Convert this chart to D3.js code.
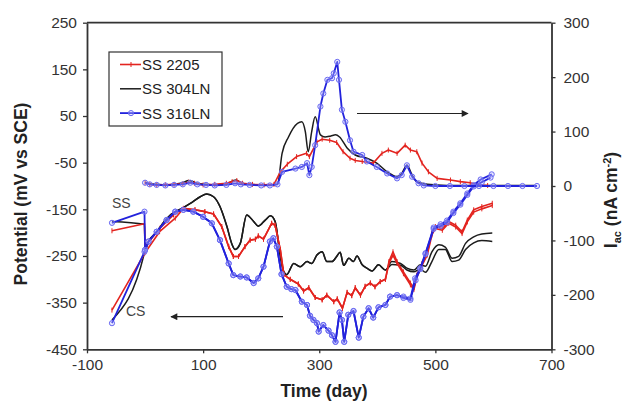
<!DOCTYPE html>
<html>
<head>
<meta charset="utf-8">
<script src="https://cdn.jsdelivr.net/npm/d3@7"></script>
<style>
body { margin: 0; background: #fff; }
text { font-family: Arial, "Liberation Sans", sans-serif; }
</style>
</head>
<body>
<script>
//tick labels
var xTicks = [-100, 100, 300, 500, 700];
var potTicks = [250, 150, 50, -50, -150, -250, -350, -450];
var curTicks = [300, 200, 100, 0, -100, -200, -300];

//legend names
var names = ["SS 2205", "SS 304LN", "SS 316LN"];

//potential (mV vs SCE), [day, value] -- SS electrode start, CS electrode start, shared path, second-line end
var red_ssStart = [[-57, -196], [-1, -181]];
var red_csStart = [[-57, -366], [0, -243], [25, -198], [52, -169]];
var red_main = [[0, -235], [5, -222], [26, -190], [49, -162], [66, -148], [86, -151], [103, -155], [118, -160],
    [132, -187], [144, -230], [152, -251], [161, -251], [172, -230], [181, -216], [190, -214], [195, -207],
    [204, -214], [218, -180], [224, -184], [233, -237], [239, -290], [250, -300], [264, -310], [273, -325],
    [282, -318], [293, -339], [305, -344], [313, -334], [325, -348], [331, -342], [340, -362], [348, -328],
    [356, -335], [362, -318], [371, -334], [379, -315], [388, -308], [396, -316], [405, -305], [414, -300],
    [420, -262], [427, -241], [434, -262], [445, -284], [457, -308], [463, -318], [468, -291], [477, -266],
    [486, -244], [494, -201], [500, -187], [512, -191], [523, -176], [535, -184], [546, -198], [555, -173],
    [566, -151], [580, -144], [598, -137]];
var red_tail = [[420, -266], [427, -248], [434, -266], [445, -288], [457, -312], [463, -322], [468, -296],
    [477, -270], [486, -248], [494, -205], [500, -191], [512, -195], [523, -180], [535, -188], [546, -202],
    [555, -177], [566, -156], [580, -149], [598, -142]];

var black_ssStart = [[-57, -176], [-1, -182]];
var black_csStart = [[-57, -387], [-1, -243]];
var black_main = [[0, -237], [6, -219], [20, -198], [37, -170], [50, -156], [60, -150], [78, -137], [95, -123],
    [106, -117], [118, -123], [129, -144], [141, -187], [150, -226], [155, -236], [164, -223], [175, -162],
    [187, -176], [195, -186], [207, -173], [216, -164], [224, -176], [233, -251], [239, -284], [244, -290],
    [256, -266], [267, -273], [279, -262], [287, -266], [296, -248], [305, -241], [313, -262], [322, -262],
    [330, -251], [336, -242], [342, -270], [351, -255], [359, -262], [365, -250], [374, -269], [382, -276],
    [391, -282], [402, -269], [414, -280], [425, -262], [440, -266], [451, -276], [463, -280], [474, -269],
    [483, -272], [494, -241], [506, -226], [517, -231], [529, -255], [540, -251], [552, -223], [566, -209],
    [580, -203], [598, -201]];
var black_tail = [[425, -268], [440, -270], [451, -280], [463, -284], [474, -278], [483, -285], [494, -262],
    [506, -236], [517, -236], [529, -262], [540, -259], [552, -236], [566, -222], [580, -217], [598, -219]];

var blue_ssStart = [[-57, -179], [-1, -155]];
var blue_csStart = [[-57, -394], [-1, -241]];
var blue_main = [[0, -237], [6, -219], [20, -198], [37, -173], [52, -155], [66, -151], [83, -155], [100, -166],
    [115, -180], [129, -216], [144, -266], [152, -291], [164, -294], [175, -296], [187, -308], [195, -298],
    [204, -273], [215, -219], [221, -212], [227, -230], [235, -289], [244, -316], [252, -321], [259, -323],
    [270, -348], [279, -355], [284, -378], [290, -387], [296, -394], [299, -412], [307, -398], [316, -410],
    [322, -420], [328, -434], [335, -371], [339, -387], [343, -434], [350, -376], [359, -368], [368, -425],
    [376, -380], [385, -362], [393, -382], [402, -360], [414, -355], [422, -337], [434, -334], [445, -337],
    [457, -341], [465, -298], [474, -276], [483, -244], [497, -189], [509, -182], [520, -174], [531, -155],
    [543, -137], [555, -116], [566, -98], [578, -86], [597, -75]];
var blue_tail = [[445, -340], [457, -344], [466, -302], [474, -278], [483, -246], [497, -192], [509, -186],
    [520, -178], [531, -158], [543, -140], [555, -119], [566, -101], [580, -92], [595, -82]];

//current I_ac (nA cm-2), [day, value]
var red_cur = [[0, 6], [8, 3], [20, 2], [35, 2], [50, 3], [65, 4], [75, 7], [85, 5], [100, 2], [120, 3],
    [140, 5], [150, 8], [158, 10], [168, 5], [185, 3], [205, 2], [222, 3], [233, 26], [245, 40], [261, 54],
    [278, 60], [283, 54], [296, 81], [305, 86], [318, 84], [330, 80], [341, 63], [353, 51], [362, 47],
    [374, 45], [393, 42], [408, 60], [419, 66], [434, 60], [448, 75], [457, 66], [468, 63], [477, 42],
    [488, 26], [503, 14], [526, 11], [543, 8], [560, 6], [572, 2], [590, 1]];
var black_cur = [[0, 7], [8, 4], [20, 3], [35, 2], [50, 3], [65, 6], [75, 10], [80, 9], [90, 5], [105, 3],
    [120, 2], [140, 4], [150, 9], [157, 11], [165, 6], [180, 3], [200, 2], [215, 2], [228, 3], [236, 60],
    [247, 90], [255, 106], [270, 118], [276, 100], [281, 63], [287, 100], [293, 127], [302, 94], [310, 90],
    [320, 92], [328, 94], [335, 90], [348, 70], [362, 57], [382, 51], [399, 42], [417, 26], [434, 17],
    [442, 23], [451, 38], [460, 20], [468, 8], [486, 3], [520, 1], [560, 1], [600, 1], [640, 1], [672, 1]];
var blue_cur = [[0, 6], [8, 3], [20, 2], [35, 1], [50, 2], [65, 3], [78, 6], [90, 3], [105, 2], [120, 1],
    [140, 2], [155, 5], [165, 3], [180, 2], [200, 1], [215, 1], [228, 3], [236, 26], [259, 32], [270, 35],
    [279, 42], [283, 20], [287, 35], [293, 75], [302, 146], [307, 170], [314, 195], [322, 198], [325, 207],
    [331, 228], [334, 195], [339, 140], [345, 118], [353, 84], [359, 63], [374, 57], [382, 45], [399, 35],
    [417, 23], [434, 14], [442, 20], [451, 38], [460, 17], [471, 5], [480, 1], [500, 0], [525, 0],
    [550, 0], [575, 0], [600, 0], [625, 0], [650, 0], [675, 0]];

window.onload = function () {
    var w = 626, h = 402;
    var left = 87, right = 551.5, top = 22.7, bottom = 349.3;

    var svg = d3.select("body").append("svg")
        .attr("width", w)
        .attr("height", h);

    var x = d3.scaleLinear().domain([-100, 700]).range([left, right]);
    var yPot = d3.scaleLinear().domain([-450, 250]).range([bottom, top]);
    var yCur = d3.scaleLinear().domain([-300, 300]).range([bottom, top]);

    var materials = [
        {ss: black_ssStart, cs: black_csStart, main: black_main, tail: black_tail, cur: black_cur,
            color: "#1c1c1c", mark: "none", width: 1.5, curve: d3.curveMonotoneX},
        {ss: red_ssStart, cs: red_csStart, main: red_main, tail: red_tail, cur: red_cur,
            color: "#e3241f", mark: "plus", width: 1.6, curve: d3.curveLinear},
        {ss: blue_ssStart, cs: blue_csStart, main: blue_main, tail: blue_tail, cur: blue_cur,
            color: "#2222dc", mark: "circle", width: 1.8, curve: d3.curveLinear}
    ];

    //draw each material: two potential lines and one current line
    materials.forEach(function (m) {
        var csEnd = m.cs[m.cs.length - 1][0];
        var tailFrom = m.tail[0][0];
        var ssLine = m.ss.concat(m.main);
        var csLine = m.cs.concat(m.main.filter(function (d) {
            return d[0] > csEnd && d[0] < tailFrom;
        })).concat(m.tail);

        var potLine = d3.line().curve(m.curve)
            .x(function (d) { return x(d[0]); })
            .y(function (d) { return yPot(d[1]); });
        var curLine = d3.line().curve(m.curve)
            .x(function (d) { return x(d[0]); })
            .y(function (d) { return yCur(d[1]); });

        var g = svg.append("g");
        [ssLine, csLine].forEach(function (pts) {
            g.append("path").attr("d", potLine(pts))
                .attr("fill", "none").attr("stroke", m.color)
                .attr("stroke-width", m.width).attr("stroke-linejoin", "round");
            drawMarks(g, pts.map(function (d) { return [x(d[0]), yPot(d[1])]; }), m);
        });
        g.append("path").attr("d", curLine(m.cur))
            .attr("fill", "none").attr("stroke", m.color)
            .attr("stroke-width", m.width).attr("stroke-linejoin", "round");
        drawMarks(g, m.cur.map(function (d) { return [x(d[0]), yCur(d[1])]; }), m);
    });

    function drawMarks(g, pts, m) {
        if (m.mark === "circle") {
            g.selectAll(null).data(pts).enter().append("circle")
                .attr("cx", function (d) { return d[0]; })
                .attr("cy", function (d) { return d[1]; })
                .attr("r", 2.6)
                .attr("fill", "#b9b9ff").attr("fill-opacity", 0.35)
                .attr("stroke", "#6a6af2").attr("stroke-width", 1);
        } else if (m.mark === "plus") {
            g.selectAll(null).data(pts).enter().append("line")
                .attr("x1", function (d) { return d[0]; })
                .attr("x2", function (d) { return d[0]; })
                .attr("y1", function (d) { return d[1] - 2.5; })
                .attr("y2", function (d) { return d[1] + 2.5; })
                .attr("stroke", m.color).attr("stroke-width", 1);
        }
    }

    //axes
    var fmt = function (d) { return String(d); };
    var axL = svg.append("g").attr("transform", "translate(" + left + ",0)")
        .call(d3.axisLeft(yPot).tickValues(potTicks).tickFormat(fmt).tickSize(4).tickSizeOuter(0).tickPadding(6));
    var axR = svg.append("g").attr("transform", "translate(" + right + ",0)")
        .call(d3.axisRight(yCur).tickValues(curTicks).tickFormat(fmt).tickSize(4).tickSizeOuter(0).tickPadding(8));
    var axB = svg.append("g").attr("transform", "translate(0," + bottom + ")")
        .call(d3.axisBottom(x).tickValues(xTicks).tickFormat(fmt).tickSize(4).tickSizeOuter(0).tickPadding(6));
    [axL, axR, axB].forEach(function (a) {
        a.selectAll("text").style("font-size", "15.5px").attr("fill", "#333")
            .style("font-family", "Arial, 'Liberation Sans', sans-serif");
        a.selectAll("line").attr("stroke", "#333").attr("stroke-width", 1.3);
        a.select(".domain").attr("stroke", "#333").attr("stroke-width", 1.8);
    });
    //top frame line
    svg.append("line").attr("x1", left).attr("x2", right).attr("y1", top).attr("y2", top)
        .attr("stroke", "#333").attr("stroke-width", 1.8);

    //axis titles
    svg.append("text").attr("x", 324).attr("y", 397)
        .attr("text-anchor", "middle").style("font-size", "17.5px").style("font-weight", "bold")
        .attr("fill", "#222").text("Time (day)");
    svg.append("text").attr("transform", "translate(26.5,194) rotate(-90)")
        .attr("text-anchor", "middle").style("font-size", "17.5px").style("font-weight", "bold")
        .attr("fill", "#222").text("Potential (mV vs SCE)");
    var rt = svg.append("text").attr("transform", "translate(617,200) rotate(-90)")
        .attr("text-anchor", "middle").style("font-size", "17.5px").style("font-weight", "bold")
        .attr("fill", "#222");
    rt.append("tspan").text("I");
    rt.append("tspan").attr("dy", 3.5).style("font-size", "11px").text("ac");
    rt.append("tspan").attr("dy", -3.5).text(" (nA cm");
    rt.append("tspan").attr("dy", -6).style("font-size", "11px").text("-2");
    rt.append("tspan").attr("dy", 6).text(")");

    //legend
    svg.append("rect").attr("x", 109).attr("y", 52).attr("width", 113).attr("height", 74)
        .attr("fill", "#fff").attr("stroke", "#333").attr("stroke-width", 1.2);
    var legendOrder = [1, 0, 2];
    legendOrder.forEach(function (mi, i) {
        var m = materials[mi];
        var ly = 64.5 + i * 24.3;
        svg.append("line").attr("x1", 120).attr("x2", 141).attr("y1", ly).attr("y2", ly)
            .attr("stroke", m.color).attr("stroke-width", m.width);
        drawMarks(svg, [[131, ly]], m);
        svg.append("text").attr("x", 142).attr("y", ly + 5.5)
            .style("font-size", "15px").attr("fill", "#222").text(names[i]);
    });

    //electrode labels
    svg.append("text").attr("x", 112).attr("y", 208).style("font-size", "14px").attr("fill", "#444").text("SS");
    svg.append("text").attr("x", 126).attr("y", 316).style("font-size", "14px").attr("fill", "#444").text("CS");

    //arrows
    var defs = svg.append("defs");
    defs.append("marker").attr("id", "arrow").attr("viewBox", "0 0 10 10")
        .attr("refX", 9).attr("refY", 5).attr("markerWidth", 9).attr("markerHeight", 7)
        .attr("markerUnits", "userSpaceOnUse").attr("orient", "auto")
        .append("path").attr("d", "M0,0L10,5L0,10Z").attr("fill", "#222");
    svg.append("line").attr("x1", 357).attr("x2", 468).attr("y1", 113.5).attr("y2", 113.5)
        .attr("stroke", "#222").attr("stroke-width", 1.2).attr("marker-end", "url(#arrow)");
    svg.append("line").attr("x1", 283).attr("x2", 171).attr("y1", 316.7).attr("y2", 316.7)
        .attr("stroke", "#222").attr("stroke-width", 1.2).attr("marker-end", "url(#arrow)");
};
</script>
</body>
</html>
